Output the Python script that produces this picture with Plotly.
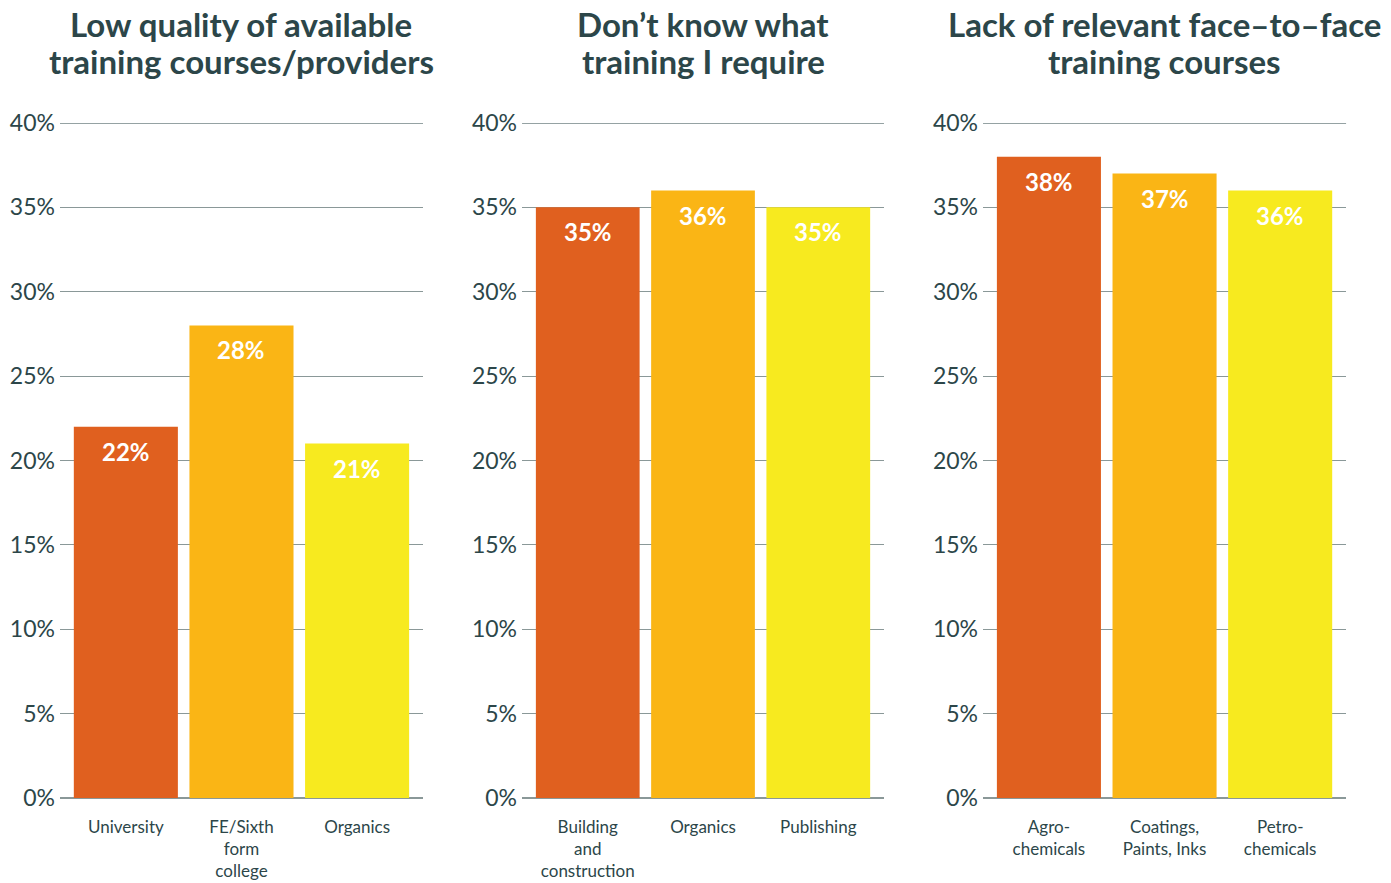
import plotly.graph_objects as go
from plotly.subplots import make_subplots

# Panel titles (one list per panel, one entry per line)
titles = [
    ['Low quality of available', 'training courses/providers'],
    ['Don\u2019t know what', 'training I require'],
    ['Lack of relevant face\u2013to\u2013face', 'training courses'],
]

# Categories for each panel
cats_low_quality = ['University', 'FE/Sixth<br>form<br>college', 'Organics']
cats_dont_know = ['Building<br>and<br>construction', 'Organics', 'Publishing']
cats_face_to_face = ['Agro-<br>chemicals', 'Coatings,<br>Paints, Inks', 'Petro-<br>chemicals']

# Values (percent)
vals_low_quality = [22, 28, 21]
vals_dont_know = [35, 36, 35]
vals_face_to_face = [38, 37, 36]

tick_vals = [0, 5, 10, 15, 20, 25, 30, 35, 40]
tick_text = ['0%', '5%', '10%', '15%', '20%', '25%', '30%', '35%', '40%']

bar_colors = ['#E0601F', '#FAB515', '#F7EA1F']
text_color = '#2C4649'
grid_color = '#8A9898'

panels = [
    (cats_low_quality, vals_low_quality),
    (cats_dont_know, vals_dont_know),
    (cats_face_to_face, vals_face_to_face),
]

W, H = 1391, 883

fig = make_subplots(rows=1, cols=3)

domains = [(0.0431, 0.3041), (0.3753, 0.6355), (0.7067, 0.9677)]
y_domain = (0.0963, 0.8607)

for i, (cats, vals) in enumerate(panels):
    col = i + 1
    sfx = str(col) if col > 1 else ''
    fig.add_trace(go.Bar(
        x=cats, y=vals,
        marker=dict(color=bar_colors, line=dict(width=0)),
        hoverinfo='x+y',
        showlegend=False,
    ), row=1, col=col)

    # value labels at the top inside each bar
    for c, v in zip(cats, vals):
        fig.add_annotation(
            x=c, y=v, xref='x' + sfx, yref='y' + sfx,
            text=f'<b>{v}%</b>', showarrow=False, yanchor='top', yshift=-8,
            font=dict(family='Lato', size=24, color='white'),
        )

    # panel title, two lines
    d = domains[i]
    for k, line in enumerate(titles[i]):
        fig.add_annotation(
            x=(d[0] + d[1]) / 2, y=1.0, xref='paper', yref='paper',
            text=f'<b>{line}</b>', showarrow=False, xanchor='center', yanchor='middle',
            yshift=-(24 + 37 * k),
            font=dict(family='Lato', size=33, color=text_color),
        )

    # darker top rule at 40%
    fig.add_shape(
        type='line', xref=f'x{sfx} domain', yref='y' + sfx,
        x0=0, x1=1, y0=40, y1=40, line=dict(color=text_color, width=1.2),
    )

    fig.update_xaxes(
        domain=list(d), range=[-0.57, 2.57], showgrid=False, showline=False,
        ticks='', ticklabelstandoff=17, tickangle=0, automargin=False,
        tickfont=dict(family='Lato', size=17, color=text_color),
        row=1, col=col,
    )
    fig.update_yaxes(
        domain=list(y_domain), range=[0, 40], tickvals=tick_vals, ticktext=tick_text,
        showgrid=True, gridcolor=grid_color, gridwidth=1.2,
        zeroline=True, zerolinecolor=grid_color, zerolinewidth=1.5,
        showline=False, ticks='', ticklabelstandoff=4, automargin=False,
        tickfont=dict(family='Lato', size=23, color=text_color),
        row=1, col=col,
    )

fig.update_layout(
    width=W, height=H,
    margin=dict(l=0, r=0, t=0, b=0),
    paper_bgcolor='white', plot_bgcolor='white',
    bargap=0.1,
)

# drop the browser's default 8px body margin so the figure fills the window
fig.write_html('out.html', config={'displayModeBar': False},
               post_script="document.body.style.margin='0';")
